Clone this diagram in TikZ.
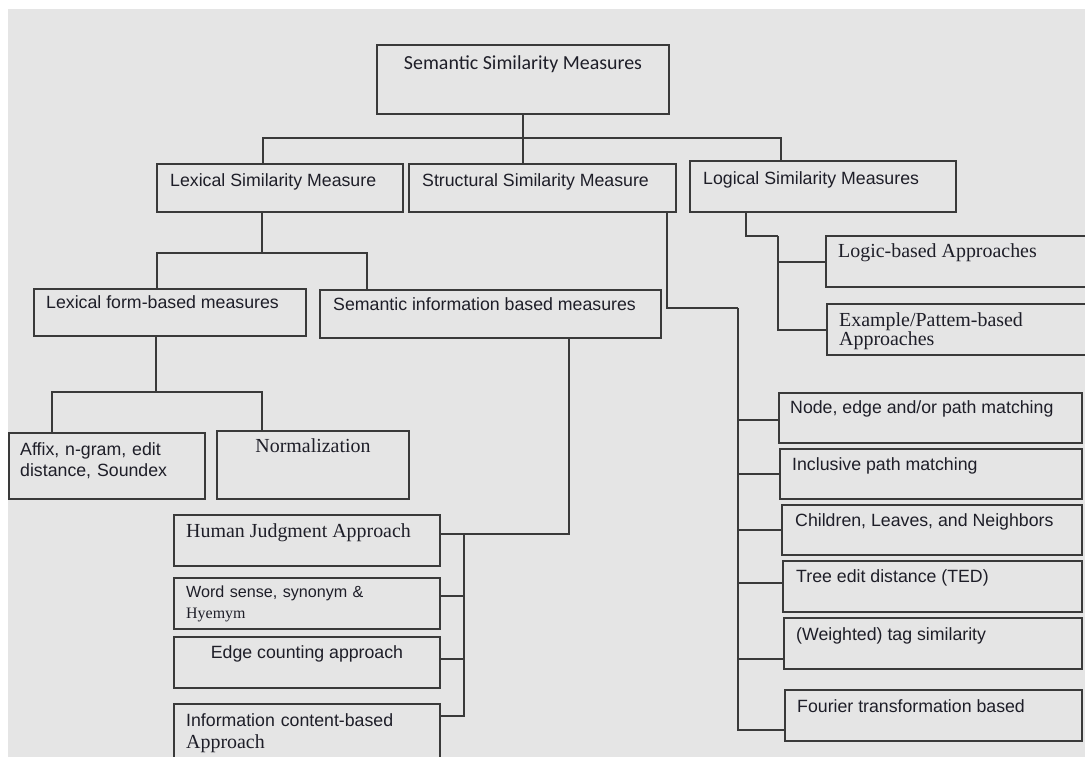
\documentclass[tikz,border=0pt]{standalone}
\usepackage{fontspec}
\newfontfamily\arialfont{Liberation Sans}
\newfontfamily\timesfont{Liberation Serif}
\newfontfamily\calibrifont{Carlito}
\usetikzlibrary{positioning, calc}
\definecolor{paper}{HTML}{E5E5E5}
\definecolor{edge}{HTML}{3A3A3A}
\definecolor{ink}{HTML}{1E1E28}

\begin{document}
\begin{tikzpicture}[x=1bp, y=-1bp,
  box/.style={draw=edge, line width=2bp, anchor=north west, inner sep=0pt},
  link/.style={draw=edge, line width=2bp},
  sans/.style={font=\arialfont\fontsize{17.8}{22}\selectfont, text=ink, inner sep=0pt, anchor=base west, align=left},
  serif/.style={font=\timesfont\fontsize{20}{20}\selectfont, text=ink, inner sep=0pt, anchor=base west, align=left},
  calib/.style={font=\calibrifont\fontsize{20}{24}\selectfont, text=ink, inner sep=0pt}
]
  \useasboundingbox (0,0) rectangle (1085,757);
  \fill[white] (0,0) rectangle (1085,757);
  \fill[paper] (8,9) rectangle (1085,757);

  % Root
  \node[box, minimum width=292bp, minimum height=69bp,
    label={[calib, anchor=base, yshift=-26bp]north:Semantic Similarity Measures}] (root) at (376,44) {};

  % Main measures
  \node[box, minimum width=246bp, minimum height=48bp,
    label={[sans, xshift=14bp, yshift=-23bp]north west:Lexical Similarity Measure}] (lex) at (156,163) {};
  \node[box, minimum width=267bp, minimum height=48bp,
    label={[sans, xshift=14bp, yshift=-23bp]north west:Structural Similarity Measure}] (struct) at (408,163) {};
  \node[box, minimum width=266bp, minimum height=51bp,
    label={[sans, xshift=14bp, yshift=-24bp]north west:Logical Similarity Measures}] (logic) at (689,160) {};

  % Lexical branch
  \node[box, minimum width=272bp, minimum height=47bp,
    label={[sans, xshift=13bp, yshift=-20bp]north west:Lexical form-based measures}] (lexform) at (33,288) {};
  \node[box, minimum width=341bp, minimum height=48bp,
    label={[sans, xshift=14bp, yshift=-21bp]north west:Semantic information based measures}] (seminf) at (319,289) {};
  \node[box, minimum width=196bp, minimum height=66bp,
    label={[sans, text width=180bp, xshift=12bp, yshift=-23bp]north west:Affix, n-gram, edit\\distance, Soundex}] (affix) at (8,432) {};
  \node[box, minimum width=192bp, minimum height=68bp,
    label={[serif, anchor=base, yshift=-22bp]north:Normalization}] (norm) at (216,430) {};

  % Semantic information approaches
  \node[box, minimum width=266bp, minimum height=51bp,
    label={[serif, xshift=13bp, yshift=-23bp]north west:Human Judgment Approach}] (human) at (173,514) {};
  \node[box, minimum width=266bp, minimum height=51bp,
    label={[sans, text width=240bp, xshift=13bp, yshift=-20.5bp, font=\arialfont\fontsize{16.2}{21}\selectfont]north west:Word sense, synonym \&\\{\timesfont\fontsize{16}{16}\selectfont Hyemym}}] (wordsense) at (173,577) {};
  \node[box, minimum width=266bp, minimum height=51bp,
    label={[sans, anchor=base, yshift=-22bp]north:Edge counting approach}] (edgecount) at (173,636) {};
  \node[box, minimum width=266bp, minimum height=70bp,
    label={[sans, text width=240bp, xshift=13bp, yshift=-23bp, font=\arialfont\fontsize{17.8}{23}\selectfont]north west:Information content-based\\{\timesfont\fontsize{20}{20}\selectfont Approach}}] (infocont) at (173,703) {};

  % Logical branch
  \node[box, minimum width=270bp, minimum height=51bp,
    label={[serif, xshift=13bp, yshift=-22bp]north west:Logic-based Approaches}] (logicb) at (825,235) {};
  \node[box, minimum width=270bp, minimum height=51bp,
    label={[serif, text width=240bp, xshift=13bp, yshift=-23bp]north west:Example/Pattem-based\\Approaches}] (pattern) at (826,303) {};

  % Structural branch
  \node[box, minimum width=303bp, minimum height=50bp,
    label={[sans, xshift=12bp, yshift=-21bp]north west:Node, edge and/or path matching}] (pathmatch) at (778,392) {};
  \node[box, minimum width=302bp, minimum height=50bp,
    label={[sans, xshift=13bp, yshift=-22bp]north west:Inclusive path matching}] (inclusive) at (779,448) {};
  \node[box, minimum width=300bp, minimum height=50bp,
    label={[sans, xshift=14bp, yshift=-22bp]north west:Children, Leaves, and Neighbors}] (children) at (781,504) {};
  \node[box, minimum width=299bp, minimum height=51bp,
    label={[sans, xshift=14bp, yshift=-22bp]north west:Tree edit distance (TED)}] (ted) at (782,560) {};
  \node[box, minimum width=298bp, minimum height=51bp,
    label={[sans, xshift=13bp, yshift=-23bp]north west:(Weighted) tag similarity}] (tagsim) at (783,617) {};
  \node[box, minimum width=297bp, minimum height=51bp,
    label={[sans, xshift=13bp, yshift=-23bp]north west:Fourier transformation based}] (fourier) at (784,689) {};

  % Bus points
  \coordinate (topbar) at (522,138);
  \coordinate (lexbar) at (262,253);
  \coordinate (formbar) at (156,392);
  \coordinate (sembus) at (464,533);
  \coordinate (strbus) at (738,308);
  \coordinate (logbus) at (778,236);

  % Connectors
  \draw[link] (root.south) -- (root.south |- struct.north);
  \draw[link] ([xshift=-17bp]lex.north) |- (topbar) -| ([xshift=-42bp]logic.north);

  \draw[link] (lex.south -| lexbar) -- (lexbar);
  \draw[link] ([xshift=-13bp]lexform.north) |- (lexbar) -| ([xshift=-123.5bp]seminf.north);

  \draw[link] (lexform.south -| formbar) -- (formbar);
  \draw[link] ([xshift=-55bp]affix.north) |- (formbar) -| ([xshift=-51bp]norm.north);

  \draw[link] ([xshift=78.5bp]seminf.south) |- ([yshift=6.5bp]human.east);
  \foreach \n/\d in {wordsense/7.5, edgecount/3.5}
    \draw[link] ([yshift=\d bp]\n.east) -| (sembus);
  \draw[link] ([yshift=-13bp]infocont.north east) -| (sembus);

  \draw[link] ([xshift=-10bp]struct.south east) |- (strbus);
  \foreach \n/\d in {pathmatch/-2, inclusive/0, children/0, ted/3.5, tagsim/-15, fourier/-14}
    \draw[link] ([yshift=\d bp]\n.west) -| (strbus);

  \draw[link] ([xshift=57bp]logic.south west) |- (logbus);
  \foreach \n in {logicb, pattern}
    \draw[link] (\n.west) -| (logbus);
\end{tikzpicture}
\end{document}
